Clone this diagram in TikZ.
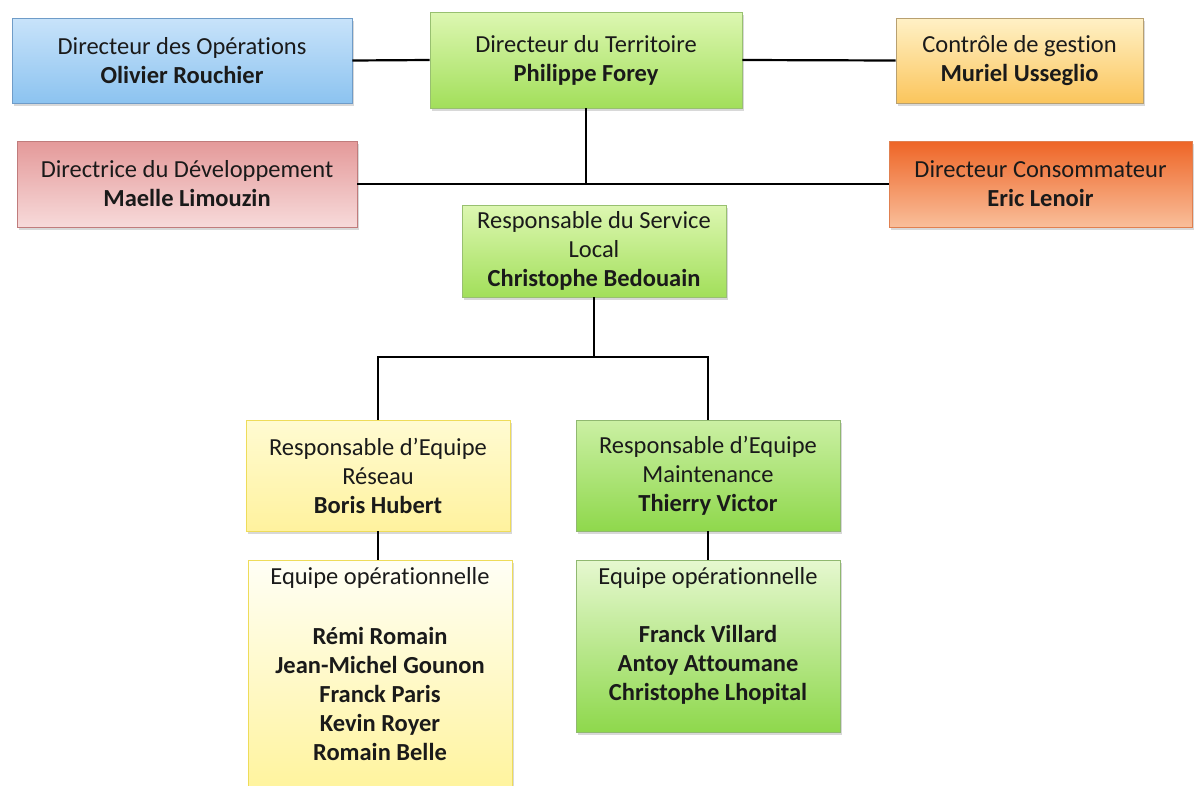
\documentclass[tikz,border=0pt]{standalone}
\usepackage{fontspec}
\setmainfont[Ligatures={NoCommon}]{Carlito}
\usetikzlibrary{shadows}
\definecolor{txt}{HTML}{1A1A1A}
\definecolor{opsT}{HTML}{C8E3FA}\definecolor{opsB}{HTML}{8CC3F0}\definecolor{opsD}{HTML}{6F9CC8}
\definecolor{grT}{HTML}{DDF7B2}\definecolor{grB}{HTML}{A2DF5A}\definecolor{grD}{HTML}{98C070}
\definecolor{ctT}{HTML}{FFF1C6}\definecolor{ctB}{HTML}{FBC55C}\definecolor{ctD}{HTML}{B8A070}
\definecolor{dvT}{HTML}{E49999}\definecolor{dvB}{HTML}{F7DADA}\definecolor{dvD}{HTML}{C07C7C}
\definecolor{csT}{HTML}{EE6526}\definecolor{csB}{HTML}{F9BE9A}\definecolor{csD}{HTML}{E08050}
\definecolor{rsT}{HTML}{FFFBD2}\definecolor{rsB}{HTML}{FFF29E}\definecolor{rsD}{HTML}{EEDC5A}
\definecolor{mnT}{HTML}{CBF0A4}\definecolor{mnB}{HTML}{8FD84C}\definecolor{mnD}{HTML}{90B870}
\definecolor{elT}{HTML}{FFFFF6}\definecolor{elB}{HTML}{FFF399}
\definecolor{erT}{HTML}{E6F8D0}\definecolor{erB}{HTML}{8ED84C}
\begin{document}
\begin{tikzpicture}[x=1pt,y=-1pt,
  box/.style n args={3}{rectangle, top color=#1, bottom color=#2, draw=#3, line width=0.9pt,
    align=center, inner sep=0pt, text=txt, font=\fontsize{24.5}{29}\selectfont,
    drop shadow={opacity=0.3, shadow xshift=1.5pt, shadow yshift=-2.5pt}},
  lbl/.style={align=center, inner sep=0pt, text=txt, font=\fontsize{24.5}{29}\selectfont},
  conn/.style={draw=black, line width=2.2pt}]
\clip (0,0) rectangle (1194,785);
\fill[white] (0,0) rectangle (1194,785);
% top row
\node[box={opsT}{opsB}{opsD}, minimum width=340pt, minimum height=85pt] (ops) at (182,60.5)
  {\fontsize{24.5}{28}\selectfont Directeur des Opérations\\\textbf{Olivier Rouchier}};
\node[box={grT}{grB}{grD}, minimum width=312pt, minimum height=96pt] (terr) at (586,60)
  {\fontsize{24.5}{28}\selectfont Directeur du Territoire\\\textbf{Philippe Forey}};
\node[box={ctT}{ctB}{ctD}, minimum width=247pt, minimum height=85pt] (ctrl) at (1019.5,60.5)
  {\fontsize{24.5}{28}\selectfont Contrôle de gestion\\\textbf{Muriel Usseglio}};
% second row
\node[box={dvT}{dvB}{dvD}, minimum width=340pt, minimum height=86pt] (dev) at (187,184)
  {\fontsize{24.5}{28}\selectfont Directrice du Développement\\\textbf{Maelle Limouzin}};
\node[box={csT}{csB}{csD}, minimum width=303pt, minimum height=86pt] (cons) at (1040.5,184)
  {\fontsize{24.5}{28}\selectfont Directeur Consommateur\\\textbf{Eric Lenoir}};
% service local
\node[box={grT}{grB}{grD}, minimum width=264pt, minimum height=92pt] (svc) at (594,251)
  {\fontsize{24.5}{30}\selectfont Responsable du Service\\Local\\\textbf{Christophe Bedouain}};
% team leaders
\node[box={rsT}{rsB}{rsD}, minimum width=264pt, minimum height=111pt] (res) at (378,475.5)
  {Responsable d’Equipe\\Réseau\\\textbf{Boris Hubert}};
\node[box={mnT}{mnB}{mnD}, minimum width=264pt, minimum height=111pt] (mnt) at (708,475.5)
  {Responsable d’Equipe\\Maintenance\\\textbf{Thierry Victor}};
% teams
\node[box={elT}{elB}{rsD}, minimum width=264pt, minimum height=240pt] (eqL) at (380,680) {};
\node[box={erT}{erB}{mnD}, minimum width=264pt, minimum height=172pt] (eqR) at (708,646) {};
\node[lbl] (eqLt) at (380,578) {Equipe opérationnelle};
\node[lbl] (eqLn) at (380,694) {\textbf{Rémi Romain}\\\textbf{Jean-Michel Gounon}\\\textbf{Franck Paris}\\\textbf{Kevin Royer}\\\textbf{Romain Belle}};
\node[lbl] (eqRt) at (708,578) {Equipe opérationnelle};
\node[lbl] (eqRn) at (708,665) {\textbf{Franck Villard}\\\textbf{Antoy Attoumane}\\\textbf{Christophe Lhopital}};
% connectors
\draw[conn] (ops.east) -- (terr.west);
\draw[conn] (terr.east) -- (ctrl.west);
\draw[conn] (dev.east) -- (cons.west);
\draw[conn] (terr.south) -- (terr.south |- dev.east);
\coordinate (j) at (594,357);
\draw[conn] (svc.south) -- (j);
\draw[conn] (res.north) |- (j) -| (mnt.north);
\draw[conn] (res.south) -- (res.south |- eqL.north);
\draw[conn] (mnt.south) -- (eqR.north);
\end{tikzpicture}
\end{document}
